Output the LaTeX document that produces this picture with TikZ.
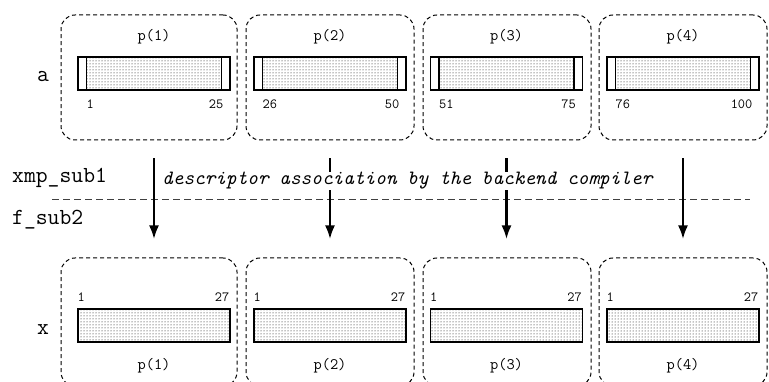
\documentclass[tikz,border=0pt]{standalone}
\usepackage{fontspec}
\usetikzlibrary{arrows.meta,patterns,positioning}

\begin{document}
\begin{tikzpicture}[x=1pt,y=1pt,>={Latex[length=14pt,width=10pt]},
                every node/.style={font=\ttfamily},
                procbox/.style={draw, dash pattern=on 4pt off 3pt, rounded corners=14pt, line width=1pt, inner sep=0pt},
                bar/.style={draw, line width=1.2pt, minimum width=152pt, minimum height=33pt, inner sep=0pt},
                dotted fill/.style={pattern=dots, pattern color=black},
                plabel/.style={font=\fontsize{16}{18}\selectfont\ttfamily},
                idx/.style={font=\fontsize{14}{16}\selectfont\ttfamily, inner sep=0pt},
                varname/.style={font=\fontsize{23}{25}\selectfont\ttfamily},
                unit/.style={font=\fontsize{23}{25}\selectfont\ttfamily, anchor=base west, inner sep=0pt},
                flow/.style={->, line width=2.8pt, shorten <=18pt, shorten >=18pt}
                ]
                \useasboundingbox (0,0) rectangle (769,382);
                \node[varname] (aname) at (43,305) {a};
                \node[varname] (xname) at (43,52) {x};
                \node[unit] (xmp) at (12,199) {xmp\_sub1};
                \node[unit] (fsub) at (12,157) {f\_sub2};
                \coordinate (sepL) at (52,182);
                \coordinate (sepR) at (750,182);
                \draw[dash pattern=on 7pt off 4pt, line width=1pt, black!75] (sepL) -- (sepR);
                \foreach \k/\cx/\bw/\bx/\lo/\hi in {1/149/176/154/1/25, 2/330/168/330/26/50, 3/507/168/506.5/51/75, 4/683/168/683/76/100}{
                    % image \k of a
                    \node[procbox, minimum width=\bw pt, minimum height=125pt] (abox\k) at (\cx,304.5) {};
                    \fill[dotted fill] (\bx-67,292) rectangle (\bx+67,325);
                    \node[bar] (abar\k) at (\bx,308.5) {};
                    \draw[line width=1.4pt] ([xshift=9pt]abar\k.south west) -- ([xshift=9pt]abar\k.north west)
                        ([xshift=-9pt]abar\k.south east) -- ([xshift=-9pt]abar\k.north east);
                    \node[plabel] (ap\k) at (\bx,345) {p(\k)};
                    \node[idx, anchor=west] (alo\k) at ([xshift=9pt,yshift=-14pt]abar\k.south west) {\lo};
                    \node[idx, anchor=east] (ahi\k) at ([xshift=-7pt,yshift=-14pt]abar\k.south east) {\hi};
                    % image \k of x
                    \node[procbox, minimum width=\bw pt, minimum height=128pt] (xbox\k) at (\cx,60) {};
                    \node[bar, dotted fill] (xbar\k) at (\bx,56.5) {};
                    \node[idx, anchor=west] (xlo\k) at ([yshift=11pt]xbar\k.north west) {1};
                    \node[idx, anchor=east] (xhi\k) at ([xshift=-1pt,yshift=11pt]xbar\k.north east) {27};
                    \node[plabel] (xp\k) at (\bx,16) {p(\k)};
                    \draw[flow] (abar\k |- abox\k.south) -- (xbar\k |- xbox\k.north);
                }
                \node[font=\fontsize{20.3}{22}\selectfont\ttfamily\itshape, fill=white, inner sep=0pt, anchor=base west] (assoc) at (162,197) {descriptor association by the backend compiler};
        \end{tikzpicture}
\end{document}
